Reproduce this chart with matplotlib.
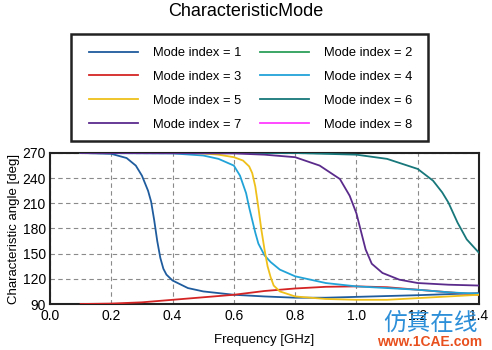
import matplotlib
matplotlib.use("Agg")
import matplotlib.pyplot as plt
from matplotlib.patches import Rectangle

plt.rcParams['font.family'] = ['Liberation Sans', 'DejaVu Sans']

title = "CharacteristicMode"
x_label = "Frequency [GHz]"
y_label = "Characteristic angle [deg]"
x_ticks = [0.0, 0.2, 0.4, 0.6, 0.8, 1.0, 1.2, 1.4]
y_ticks = [90, 120, 150, 180, 210, 240, 270]

mode_labels = ["Mode index = %d" % i for i in range(1, 9)]
mode_colors = ["#1f5c9e", "#2ca05a", "#d42424", "#22a3d8",
               "#efc01a", "#17777a", "#5b2b8c", "#ff3cff"]

# Mode 1
m1_f = [0.1, 0.2, 0.25, 0.28, 0.3, 0.32, 0.33, 0.34, 0.35, 0.36, 0.37, 0.38, 0.4,
        0.45, 0.5, 0.6, 0.7, 0.8, 0.9, 1.0, 1.2, 1.4]
m1_a = [270, 269, 264, 255, 243, 225, 212, 190, 165, 145, 132, 125, 118,
        109, 105, 101, 99, 97.5, 97.5, 98.5, 100.5, 103]
# Mode 2 (not visible)
m2_f = []
m2_a = []
# Mode 3
m3_f = [0.1, 0.2, 0.3, 0.4, 0.5, 0.6, 0.7, 0.8, 0.9, 1.0, 1.1, 1.2, 1.3, 1.4]
m3_a = [90, 90.5, 92, 95, 98, 101, 105.5, 108.5, 110.5, 111, 110, 107, 104, 101]
# Mode 4
m4_f = [0.1, 0.4, 0.5, 0.55, 0.6, 0.62, 0.64, 0.65, 0.66, 0.67, 0.68, 0.7, 0.72,
        0.75, 0.8, 0.9, 1.0, 1.1, 1.2, 1.3, 1.4]
m4_a = [270, 269.5, 267, 263, 255, 243, 222, 205, 190, 175, 162, 148, 140,
        131, 123, 115, 111, 109, 107, 104, 102]
# Mode 5
m5_f = [0.1, 0.45, 0.5, 0.55, 0.6, 0.63, 0.65, 0.66, 0.67, 0.68, 0.69, 0.7, 0.71,
        0.72, 0.73, 0.75, 0.8, 0.9, 1.0, 1.1, 1.2, 1.3, 1.4]
m5_a = [270, 270, 269.5, 268, 265, 261, 254, 246, 230, 205, 178, 155, 135,
        122, 112, 105, 99, 96, 95, 95, 97, 99, 101]
# Mode 6
m6_f = [0.1, 0.8, 1.0, 1.1, 1.2, 1.25, 1.28, 1.3, 1.33, 1.36, 1.4]
m6_a = [270, 270, 268, 263, 251, 237, 223, 211, 187, 167, 151]
# Mode 7
m7_f = [0.1, 0.6, 0.7, 0.8, 0.88, 0.946, 0.978, 1.0, 1.016, 1.03, 1.05, 1.085,
        1.14, 1.2, 1.3, 1.4]
m7_a = [270, 269.5, 268, 265, 255, 239, 219, 198, 175, 155, 138, 127,
        119, 115, 113, 112]
# Mode 8 (not visible)
m8_f = []
m8_a = []

series = [(m1_f, m1_a), (m2_f, m2_a), (m3_f, m3_a), (m4_f, m4_a),
          (m5_f, m5_a), (m6_f, m6_a), (m7_f, m7_a), (m8_f, m8_a)]

W, H = 492, 350
fig = plt.figure(figsize=(W/100, H/100), dpi=100)
ax = fig.add_axes([50/W, 1-304/H, 429/W, 151/H])

handles = []
for (f, a), lab, col in zip(series, mode_labels, mode_colors):
    h, = ax.plot(f, a, color=col, lw=1.3, label=lab, zorder=3)
    handles.append(h)

ax.set_xlim(0, 1.4)
ax.set_ylim(90, 270)
ax.set_xticks(x_ticks)
ax.set_xticklabels(["%.1f" % v for v in x_ticks])
ax.set_yticks(y_ticks)
ax.tick_params(axis="x", length=0, labelsize=10, pad=3.5)
ax.tick_params(axis="y", length=0, labelsize=10, pad=3)
ax.grid(True, ls=(0, (4, 3)), color="#8a8a8a", lw=0.8)
for s in ax.spines.values():
    s.set_linewidth(1.5)
    s.set_color("#222222")
ax.set_xlabel(x_label, fontsize=9.5, labelpad=8)
ax.set_ylabel(y_label, fontsize=9.5, labelpad=2)

fig.text(0.5, 1-12/H, title, ha="center", va="center", fontsize=13)

# legend in row-major order (1 2 / 3 4 / ...)
order = [0, 2, 4, 6, 1, 3, 5, 7]
leg = fig.legend(handles=[handles[i] for i in order],
                 labels=[mode_labels[i] for i in order], ncol=2,
                 loc="upper left", bbox_to_anchor=(89/W, 1-47/H),
                 bbox_transform=fig.transFigure, borderaxespad=0,
                 fontsize=9.3, handlelength=3.8, handletextpad=1.15,
                 columnspacing=1.45, labelspacing=0.92, borderpad=0.0,
                 frameon=False)
fig.add_artist(Rectangle((71/W, 1-141/H), 357/W, 107/H, transform=fig.transFigure,
                         fill=False, edgecolor="#222222", lw=1.8))

fig.text(430/W, 1-323/H, "仿真在线", family=["Noto Sans CJK SC", "DejaVu Sans"],
         fontsize=17, color="#2d8fd8", ha="center", va="center")
fig.text(430/W, 1-342/H, "www.1CAE.com", fontsize=10, fontweight="bold",
         color="#e8501e", ha="center", va="center")

fig.savefig("out.png", dpi=100)
